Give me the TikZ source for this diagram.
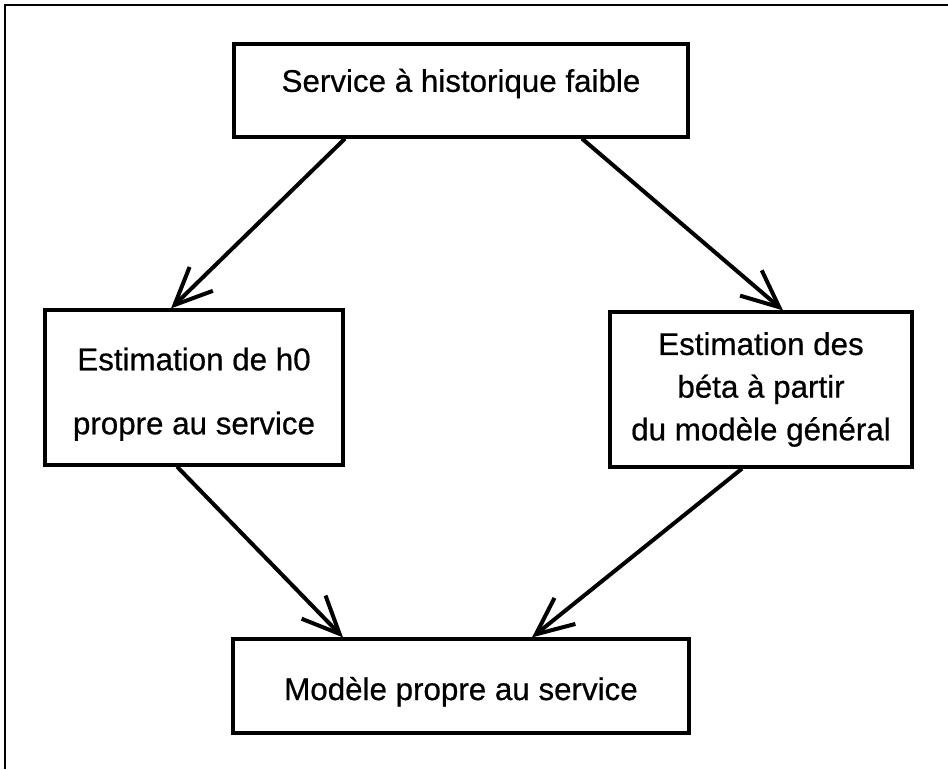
\documentclass[tikz,border=0pt]{standalone}
\usepackage{fontspec}
\setmainfont{Liberation Sans}[FakeBold=0.6]
\usetikzlibrary{arrows.meta,calc}
\begin{document}
\begin{tikzpicture}[x=0.75pt,y=-0.75pt,
  box/.style={draw,line width=2.4pt,inner sep=0pt,font=\fontsize{23.5}{32}\selectfont,align=center},
  conn/.style={line width=3pt,-{Straight Barb[length=28pt,width=25pt,line width=3pt]}},
  frame/.style={line width=2.2pt}]
\useasboundingbox (0,0) rectangle (948,769);
\draw[frame] (5,769) -- (5,5) -- (948,5);
\node[box,minimum width=454*0.75pt,minimum height=93*0.75pt,text height=17pt,text depth=15pt] (top) at (461,90.5) {Service à historique faible};
\node[box,minimum width=298*0.75pt,minimum height=155*0.75pt] (left) at (194,387.5) {\rule{0pt}{27pt}Estimation de h0\\[16pt]propre au service};
\node[box,minimum width=302*0.75pt,minimum height=155*0.75pt] (right) at (761,389.5) {Estimation des\\béta à partir\\du modèle général};
\node[box,minimum width=456*0.75pt,minimum height=94*0.75pt,text height=26pt,text depth=5pt] (bot) at (461,686) {Modèle propre au service};
\draw[conn] ($(top.south)+(-116,0)$) -- ($(left.north)+(-23,0)$);
\draw[conn] ($(top.south)+(121,0)$) -- ($(right.north)+(22,0)$);
\draw[conn] ($(left.south)+(-17,0)$) -- ($(bot.north)+(-118,0)$);
\draw[conn] ($(right.south)+(-19,0)$) -- ($(bot.north)+(71,0)$);
\end{tikzpicture}
\end{document}
